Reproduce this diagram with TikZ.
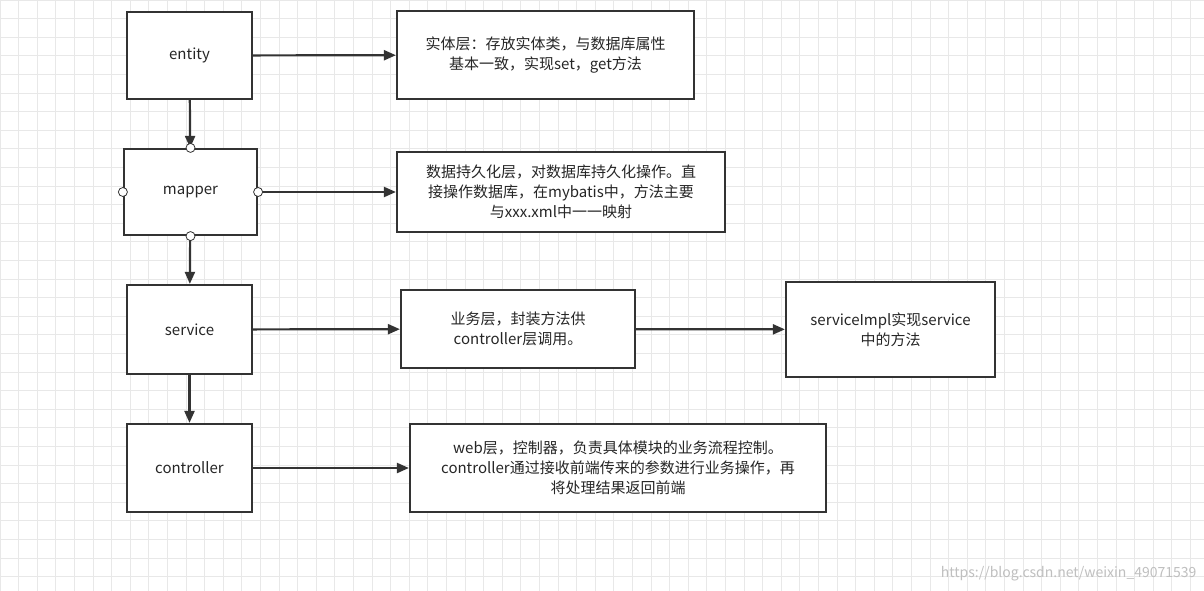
\documentclass[tikz,border=0pt]{standalone}
\usepackage{fontspec}
\setmainfont{Noto Sans CJK SC}
\usetikzlibrary{arrows.meta}
\begin{document}
\begin{tikzpicture}[x=1pt,y=-1pt,
  box/.style={draw=black!80,line width=2.2pt,fill=white,inner sep=0pt,font=\fontsize{15}{20}\selectfont,text=black!85,align=center},
  arr/.style={draw=black!80,line width=2.2pt,-{Triangle[length=12pt,width=10pt]}},
  port/.style={circle,draw=black!80,fill=white,line width=0.8pt,inner sep=0pt,minimum size=9pt}]
\fill[white] (0,0) rectangle (1204,591);
\useasboundingbox (0,0) rectangle (1204,591);
\foreach \x in {0,18.6,...,1204} \draw[black!9,line width=0.8pt] (\x,0) -- (\x,591);
\foreach \y in {0,18.6,...,591} \draw[black!9,line width=0.8pt] (0,\y) -- (1204,\y);
\node[box,minimum width=125pt,minimum height=87pt] (entity) at (189.5,55.5) {entity};
\node[box,minimum width=133pt,minimum height=86pt] (mapper) at (190.5,192) {mapper};
\node[box,minimum width=125pt,minimum height=89pt] (service) at (189.5,329.5) {service};
\node[box,minimum width=125pt,minimum height=88pt] (controller) at (189.5,468) {controller};
\node[box,minimum width=297pt,minimum height=88pt] (d1) at (545.5,55) {实体层：存放实体类，与数据库属性\\基本一致，实现set，get方法};
\node[box,minimum width=328pt,minimum height=80pt] (d2) at (561,192) {数据持久化层，对数据库持久化操作。直\\接操作数据库，在mybatis中，方法主要\\与xxx.xml中一一映射};
\node[box,minimum width=234pt,minimum height=78pt] (d3) at (518,329) {业务层，封装方法供\\controller层调用。};
\node[box,minimum width=209pt,minimum height=95pt] (d4) at (890.5,329.5) {serviceImpl实现service\\中的方法};
\node[box,minimum width=416pt,minimum height=88pt] (d5) at (618,468) {web层，控制器，负责具体模块的业务流程控制。\\controller通过接收前端传来的参数进行业务操作，再\\将处理结果返回前端};
\draw[arr] (entity) -- (d1);
\draw[arr] (mapper) -- (d2);
\draw[arr] (service) -- (d3);
\draw[arr] (d3) -- (d4);
\draw[arr] (controller) -- (d5);
\draw[arr] (entity) -- (mapper);
\draw[arr] (mapper) -- (service);
\draw[arr] (service) -- (controller);
\foreach \a in {north,south,east,west} \node[port] (p\a) at (mapper.\a) {};
\node[anchor=south east,text=black!25,font=\fontsize{14}{16}\selectfont] (wm) at (1200,585) {https://blog.csdn.net/weixin\_49071539};
\end{tikzpicture}
\end{document}
